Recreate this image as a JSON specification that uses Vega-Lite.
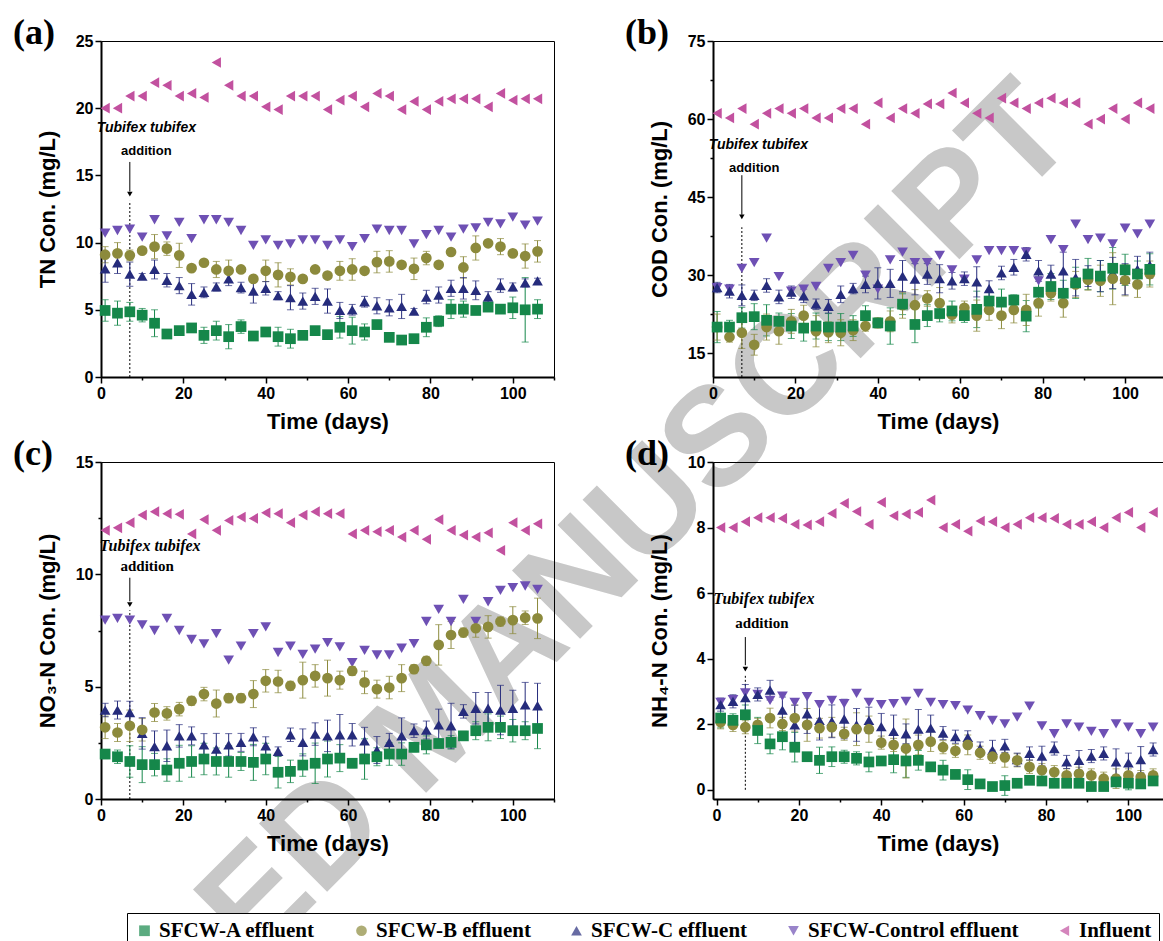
{
"$schema": "https://vega.github.io/schema/vega-lite/v6.json",
"background": "white",
"padding": {"left": 12, "top": 14, "right": 0, "bottom": 0},
"datasets": {"main": [
{"p":"a","d":1,"A":4.95,"eA":0.8,"B":9.1,"eB":0.6,"C":8.05,"eC":1.0,"Control":10.7,"Influent":20.0},
{"p":"a","d":4,"A":4.75,"eA":0.9,"B":9.2,"eB":0.8,"C":8.5,"eC":0.8,"Control":10.9,"Influent":20.0},
{"p":"a","d":7,"A":4.85,"eA":0.7,"B":9.05,"eB":0.4,"C":7.65,"eC":0.9,"Control":11.0,"Influent":20.9},
{"p":"a","d":10,"A":4.6,"eA":0.5,"B":9.4,"eB":0.2,"C":7.5,"eC":0.2,"Control":10.4,"Influent":20.9},
{"p":"a","d":13,"A":4.0,"eA":1.0,"B":9.7,"eB":0.9,"C":8.0,"eC":0.7,"Control":11.7,"Influent":21.9},
{"p":"a","d":16,"A":3.2,"eA":0.2,"B":9.55,"eB":0.5,"C":7.2,"eC":0.5,"Control":10.5,"Influent":21.7},
{"p":"a","d":19,"A":3.45,"eA":0.2,"B":9.05,"eB":0.9,"C":6.8,"eC":0.6,"Control":11.5,"Influent":20.9},
{"p":"a","d":22,"A":3.65,"eA":0.2,"B":8.1,"eB":0.2,"C":6.15,"eC":0.8,"Control":10.3,"Influent":21.1},
{"p":"a","d":25,"A":3.1,"eA":0.6,"B":8.5,"eB":0.2,"C":6.3,"eC":0.4,"Control":11.7,"Influent":20.8},
{"p":"a","d":28,"A":3.45,"eA":0.7,"B":8.0,"eB":0.6,"C":6.7,"eC":0.3,"Control":11.7,"Influent":23.4},
{"p":"a","d":31,"A":3.0,"eA":0.9,"B":7.9,"eB":0.8,"C":7.3,"eC":0.5,"Control":11.5,"Influent":21.7},
{"p":"a","d":34,"A":3.75,"eA":0.5,"B":8.0,"eB":0.2,"C":6.65,"eC":0.4,"Control":10.9,"Influent":20.9},
{"p":"a","d":37,"A":3.05,"eA":0.2,"B":7.3,"eB":0.2,"C":6.4,"eC":0.9,"Control":9.8,"Influent":20.9},
{"p":"a","d":40,"A":3.35,"eA":0.2,"B":7.9,"eB":0.8,"C":6.6,"eC":0.5,"Control":10.2,"Influent":20.1},
{"p":"a","d":43,"A":3.0,"eA":0.7,"B":7.6,"eB":0.9,"C":6.05,"eC":0.3,"Control":9.8,"Influent":19.9},
{"p":"a","d":46,"A":2.85,"eA":0.7,"B":7.45,"eB":0.6,"C":5.9,"eC":0.9,"Control":9.9,"Influent":20.9},
{"p":"a","d":49,"A":3.1,"eA":0.2,"B":7.3,"eB":0.2,"C":5.65,"eC":0.6,"Control":10.2,"Influent":20.9},
{"p":"a","d":52,"A":3.45,"eA":0.2,"B":8.0,"eB":0.2,"C":6.0,"eC":0.6,"Control":10.2,"Influent":20.9},
{"p":"a","d":55,"A":3.15,"eA":0.2,"B":7.55,"eB":0.2,"C":5.65,"eC":0.9,"Control":9.8,"Influent":19.9},
{"p":"a","d":58,"A":3.7,"eA":0.8,"B":7.9,"eB":0.7,"C":4.95,"eC":0.6,"Control":10.2,"Influent":20.6},
{"p":"a","d":61,"A":3.45,"eA":1.0,"B":8.0,"eB":0.8,"C":5.0,"eC":0.4,"Control":9.7,"Influent":20.9},
{"p":"a","d":64,"A":3.35,"eA":0.6,"B":7.9,"eB":0.2,"C":5.6,"eC":0.4,"Control":10.3,"Influent":20.1},
{"p":"a","d":67,"A":3.9,"eA":0.2,"B":8.55,"eB":0.8,"C":5.3,"eC":0.6,"Control":11.0,"Influent":21.1},
{"p":"a","d":70,"A":2.95,"eA":0.2,"B":8.6,"eB":0.8,"C":5.15,"eC":0.6,"Control":10.9,"Influent":20.9},
{"p":"a","d":73,"A":2.75,"eA":0.2,"B":8.35,"eB":0.2,"C":5.25,"eC":0.9,"Control":10.9,"Influent":19.9},
{"p":"a","d":76,"A":2.85,"eA":0.2,"B":8.05,"eB":0.8,"C":4.9,"eC":0.2,"Control":9.9,"Influent":20.5},
{"p":"a","d":79,"A":3.7,"eA":0.7,"B":8.85,"eB":0.5,"C":5.95,"eC":0.5,"Control":10.6,"Influent":19.9},
{"p":"a","d":82,"A":4.15,"eA":0.4,"B":8.35,"eB":0.2,"C":6.1,"eC":0.6,"Control":10.9,"Influent":20.5},
{"p":"a","d":85,"A":5.05,"eA":0.7,"B":9.3,"eB":0.2,"C":6.6,"eC":0.6,"Control":10.4,"Influent":20.7},
{"p":"a","d":88,"A":5.05,"eA":0.6,"B":8.15,"eB":0.8,"C":6.6,"eC":0.8,"Control":11.0,"Influent":20.7},
{"p":"a","d":91,"A":4.95,"eA":0.2,"B":9.6,"eB":0.9,"C":6.45,"eC":0.7,"Control":11.1,"Influent":20.7},
{"p":"a","d":94,"A":5.2,"eA":0.2,"B":9.95,"eB":0.2,"C":5.95,"eC":0.4,"Control":11.5,"Influent":20.1},
{"p":"a","d":97,"A":5.05,"eA":0.2,"B":9.7,"eB":0.6,"C":6.8,"eC":0.5,"Control":11.4,"Influent":21.1},
{"p":"a","d":100,"A":5.15,"eA":0.8,"B":9.2,"eB":0.2,"C":6.7,"eC":0.3,"Control":11.9,"Influent":20.6},
{"p":"a","d":103,"A":5.0,"eA":2.4,"B":9.0,"eB":0.9,"C":7.0,"eC":0.3,"Control":11.3,"Influent":20.7},
{"p":"a","d":106,"A":5.05,"eA":0.7,"B":9.35,"eB":0.8,"C":7.15,"eC":0.2,"Control":11.6,"Influent":20.7},
{"p":"b","d":1,"A":20.0,"eA":3,"B":20.0,"eB":2.5,"C":27.6,"eC":1.0,"Control":27.6,"Influent":61.1},
{"p":"b","d":4,"A":20.0,"eA":1.3,"B":18.1,"eB":1,"C":26.9,"eC":1.3,"Control":27.3,"Influent":60.2},
{"p":"b","d":7,"A":21.8,"eA":2,"B":18.9,"eB":3,"C":26.1,"eC":2,"Control":31.3,"Influent":62.0},
{"p":"b","d":10,"A":22.0,"eA":2.5,"B":16.6,"eB":2,"C":26.1,"eC":1,"Control":32.4,"Influent":59.0},
{"p":"b","d":13,"A":21.3,"eA":3,"B":20.0,"eB":2.5,"C":28.0,"eC":1.3,"Control":37.1,"Influent":61.1},
{"p":"b","d":16,"A":21.1,"eA":1.6,"B":19.2,"eB":2.5,"C":25.8,"eC":1.3,"Control":29.7,"Influent":62.0},
{"p":"b","d":19,"A":20.2,"eA":2.4,"B":21.1,"eB":2.3,"C":26.7,"eC":1.2,"Control":26.9,"Influent":61.1},
{"p":"b","d":22,"A":19.8,"eA":2.5,"B":22.2,"eB":2,"C":26.0,"eC":1.3,"Control":27.3,"Influent":62.0},
{"p":"b","d":25,"A":20.2,"eA":2.5,"B":19.2,"eB":3,"C":24.4,"eC":1,"Control":27.8,"Influent":60.2},
{"p":"b","d":28,"A":20.0,"eA":2.6,"B":19.0,"eB":2,"C":24.0,"eC":1.3,"Control":31.3,"Influent":60.2},
{"p":"b","d":31,"A":20.0,"eA":2.6,"B":18.9,"eB":2.5,"C":26.3,"eC":1.6,"Control":32.4,"Influent":62.0},
{"p":"b","d":34,"A":20.2,"eA":2.0,"B":19.4,"eB":2,"C":27.4,"eC":1,"Control":33.8,"Influent":62.0},
{"p":"b","d":37,"A":22.2,"eA":1.9,"B":20.2,"eB":1,"C":28.2,"eC":1.6,"Control":30.0,"Influent":59.0},
{"p":"b","d":40,"A":20.8,"eA":0.8,"B":20.8,"eB":1,"C":28.4,"eC":3,"Control":27.3,"Influent":63.1},
{"p":"b","d":43,"A":20.2,"eA":3.5,"B":21.1,"eB":2,"C":28.4,"eC":2.7,"Control":32.9,"Influent":60.2},
{"p":"b","d":46,"A":24.4,"eA":2,"B":24.2,"eB":2.5,"C":29.8,"eC":3,"Control":34.4,"Influent":62.0},
{"p":"b","d":49,"A":20.5,"eA":3.5,"B":24.2,"eB":3,"C":29.2,"eC":3,"Control":32.4,"Influent":61.1},
{"p":"b","d":52,"A":22.2,"eA":2.1,"B":25.5,"eB":1.5,"C":30.2,"eC":2,"Control":32.4,"Influent":62.9},
{"p":"b","d":55,"A":22.6,"eA":1.6,"B":24.6,"eB":3,"C":29.3,"eC":2.7,"Control":33.8,"Influent":62.9},
{"p":"b","d":58,"A":23.1,"eA":1.9,"B":22.4,"eB":1.6,"C":28.9,"eC":1.6,"Control":31.0,"Influent":65.0},
{"p":"b","d":61,"A":22.2,"eA":1.3,"B":23.7,"eB":1.3,"C":29.3,"eC":1.3,"Control":29.2,"Influent":63.1},
{"p":"b","d":64,"A":23.4,"eA":3.5,"B":22.2,"eB":3,"C":28.7,"eC":2.9,"Control":32.9,"Influent":61.1},
{"p":"b","d":67,"A":25.0,"eA":2,"B":23.3,"eB":2,"C":27.4,"eC":1.5,"Control":34.7,"Influent":60.2},
{"p":"b","d":70,"A":24.8,"eA":2.5,"B":22.2,"eB":2.5,"C":30.4,"eC":1.3,"Control":34.7,"Influent":64.0},
{"p":"b","d":73,"A":25.2,"eA":1,"B":23.3,"eB":2.5,"C":31.5,"eC":1.5,"Control":34.7,"Influent":63.1},
{"p":"b","d":76,"A":22.1,"eA":3,"B":23.3,"eB":3,"C":34.0,"eC":1.3,"Control":34.4,"Influent":62.0},
{"p":"b","d":79,"A":26.7,"eA":3,"B":24.6,"eB":2.5,"C":30.8,"eC":2,"Control":28.9,"Influent":63.1},
{"p":"b","d":82,"A":27.8,"eA":2.5,"B":26.5,"eB":1.5,"C":30.2,"eC":1.7,"Control":36.8,"Influent":64.0},
{"p":"b","d":85,"A":26.5,"eA":2.5,"B":24.6,"eB":2.7,"C":30.8,"eC":3.6,"Control":34.9,"Influent":63.1},
{"p":"b","d":88,"A":28.5,"eA":3,"B":28.2,"eB":2.5,"C":29.5,"eC":3.5,"Control":39.8,"Influent":63.1},
{"p":"b","d":91,"A":30.2,"eA":3,"B":29.1,"eB":2,"C":29.8,"eC":2,"Control":36.8,"Influent":59.0},
{"p":"b","d":94,"A":29.8,"eA":3,"B":28.9,"eB":3,"C":29.8,"eC":3,"Control":37.1,"Influent":60.0},
{"p":"b","d":97,"A":31.3,"eA":4,"B":29.3,"eB":5,"C":30.4,"eC":3,"Control":36.0,"Influent":62.0},
{"p":"b","d":100,"A":31.0,"eA":3,"B":29.0,"eB":3,"C":29.2,"eC":3,"Control":39.0,"Influent":60.0},
{"p":"b","d":103,"A":30.2,"eA":2.5,"B":28.2,"eB":2.5,"C":31.1,"eC":2.5,"Control":37.9,"Influent":63.1},
{"p":"b","d":106,"A":31.1,"eA":3,"B":30.2,"eB":2.5,"C":31.9,"eC":2.5,"Control":39.8,"Influent":62.0},
{"p":"c","d":1,"A":2.0,"eA":0.2,"B":3.19,"eB":0.5,"C":3.96,"eC":0.3,"Control":7.96,"Influent":11.96},
{"p":"c","d":4,"A":1.88,"eA":0.3,"B":2.96,"eB":0.4,"C":3.96,"eC":0.4,"Control":8.04,"Influent":12.07},
{"p":"c","d":7,"A":1.67,"eA":0.7,"B":3.26,"eB":0.7,"C":3.85,"eC":0.5,"Control":7.96,"Influent":12.3},
{"p":"c","d":10,"A":1.53,"eA":0.8,"B":3.08,"eB":0.5,"C":2.92,"eC":0.7,"Control":7.75,"Influent":12.64},
{"p":"c","d":13,"A":1.53,"eA":0.5,"B":3.85,"eB":0.4,"C":2.33,"eC":0.7,"Control":7.5,"Influent":12.79},
{"p":"c","d":16,"A":1.29,"eA":0.5,"B":3.81,"eB":0.3,"C":2.37,"eC":0.7,"Control":8.04,"Influent":12.7},
{"p":"c","d":19,"A":1.59,"eA":0.8,"B":4.0,"eB":0.3,"C":2.81,"eC":0.5,"Control":7.5,"Influent":12.67},
{"p":"c","d":22,"A":1.67,"eA":0.7,"B":4.37,"eB":0.2,"C":2.81,"eC":0.4,"Control":7.1,"Influent":11.8},
{"p":"c","d":25,"A":1.78,"eA":0.7,"B":4.67,"eB":0.3,"C":2.41,"eC":0.5,"Control":6.9,"Influent":12.44},
{"p":"c","d":28,"A":1.67,"eA":0.6,"B":4.25,"eB":0.6,"C":2.22,"eC":0.7,"Control":7.36,"Influent":11.96},
{"p":"c","d":31,"A":1.67,"eA":0.7,"B":4.49,"eB":0.2,"C":2.41,"eC":0.5,"Control":6.18,"Influent":12.4},
{"p":"c","d":34,"A":1.67,"eA":0.4,"B":4.49,"eB":0.2,"C":2.52,"eC":0.4,"Control":6.8,"Influent":12.55},
{"p":"c","d":37,"A":1.63,"eA":0.8,"B":4.67,"eB":0.6,"C":2.77,"eC":0.4,"Control":7.36,"Influent":12.49},
{"p":"c","d":40,"A":1.78,"eA":0.7,"B":5.26,"eB":0.5,"C":2.37,"eC":0.4,"Control":7.66,"Influent":12.74},
{"p":"c","d":43,"A":1.19,"eA":0.7,"B":5.23,"eB":0.5,"C":2.12,"eC":0.2,"Control":6.52,"Influent":12.7},
{"p":"c","d":46,"A":1.23,"eA":0.5,"B":5.04,"eB":0.2,"C":2.86,"eC":0.3,"Control":6.8,"Influent":12.3},
{"p":"c","d":49,"A":1.51,"eA":0.5,"B":5.29,"eB":0.8,"C":2.52,"eC":0.6,"Control":6.44,"Influent":12.64},
{"p":"c","d":52,"A":1.59,"eA":0.9,"B":5.48,"eB":0.5,"C":2.89,"eC":0.5,"Control":6.67,"Influent":12.79},
{"p":"c","d":55,"A":1.78,"eA":0.8,"B":5.38,"eB":0.8,"C":2.81,"eC":0.7,"Control":6.96,"Influent":12.7},
{"p":"c","d":58,"A":1.82,"eA":0.6,"B":5.29,"eB":0.4,"C":2.86,"eC":0.9,"Control":6.77,"Influent":12.7},
{"p":"c","d":61,"A":1.59,"eA":0.2,"B":5.7,"eB":0.2,"C":2.86,"eC":0.5,"Control":6.07,"Influent":11.8},
{"p":"c","d":64,"A":1.78,"eA":0.9,"B":5.19,"eB":0.5,"C":2.59,"eC":0.6,"Control":6.62,"Influent":11.96},
{"p":"c","d":67,"A":1.88,"eA":0.4,"B":4.89,"eB":0.4,"C":2.18,"eC":0.6,"Control":6.41,"Influent":11.9},
{"p":"c","d":70,"A":2.0,"eA":0.5,"B":4.96,"eB":0.5,"C":2.52,"eC":0.4,"Control":6.41,"Influent":11.96},
{"p":"c","d":73,"A":2.0,"eA":0.5,"B":5.38,"eB":0.6,"C":2.81,"eC":0.8,"Control":6.71,"Influent":11.66},
{"p":"c","d":76,"A":2.3,"eA":0.2,"B":5.78,"eB":0.2,"C":3.04,"eC":0.3,"Control":6.92,"Influent":11.96},
{"p":"c","d":79,"A":2.41,"eA":0.4,"B":6.15,"eB":0.2,"C":3.07,"eC":0.4,"Control":7.9,"Influent":11.56},
{"p":"c","d":82,"A":2.47,"eA":0.2,"B":6.86,"eB":0.9,"C":3.3,"eC":0.7,"Control":8.44,"Influent":12.44},
{"p":"c","d":85,"A":2.52,"eA":0.3,"B":7.3,"eB":0.6,"C":3.26,"eC":1.0,"Control":7.9,"Influent":11.96},
{"p":"c","d":88,"A":2.81,"eA":0.2,"B":7.41,"eB":0.2,"C":3.9,"eC":0.3,"Control":8.89,"Influent":11.75},
{"p":"c","d":91,"A":3.04,"eA":0.4,"B":7.6,"eB":0.4,"C":4.04,"eC":0.7,"Control":7.9,"Influent":11.66},
{"p":"c","d":94,"A":3.19,"eA":0.6,"B":7.66,"eB":0.5,"C":4.04,"eC":0.7,"Control":8.78,"Influent":11.85},
{"p":"c","d":97,"A":3.19,"eA":0.5,"B":7.9,"eB":0.2,"C":3.96,"eC":1.1,"Control":9.29,"Influent":11.07},
{"p":"c","d":100,"A":3.04,"eA":0.5,"B":7.96,"eB":0.6,"C":4.04,"eC":0.8,"Control":9.41,"Influent":12.3},
{"p":"c","d":103,"A":3.04,"eA":0.4,"B":8.07,"eB":0.3,"C":4.19,"eC":1.0,"Control":9.48,"Influent":11.96},
{"p":"c","d":106,"A":3.14,"eA":0.9,"B":8.04,"eB":0.9,"C":4.15,"eC":1.0,"Control":9.33,"Influent":12.25},
{"p":"d","d":1,"A":2.19,"eA":0.3,"B":2.06,"eB":0.2,"C":2.6,"eC":0.2,"Control":2.67,"Influent":8.0},
{"p":"d","d":4,"A":2.12,"eA":0.2,"B":1.98,"eB":0.2,"C":2.7,"eC":0.2,"Control":2.75,"Influent":8.0},
{"p":"d","d":7,"A":2.29,"eA":0.3,"B":1.91,"eB":0.2,"C":2.81,"eC":0.4,"Control":2.96,"Influent":8.18},
{"p":"d","d":10,"A":1.81,"eA":0.4,"B":1.98,"eB":0.2,"C":2.91,"eC":0.2,"Control":2.91,"Influent":8.3},
{"p":"d","d":13,"A":1.4,"eA":0.3,"B":2.19,"eB":0.3,"C":3.04,"eC":0.3,"Control":2.73,"Influent":8.3},
{"p":"d","d":16,"A":1.62,"eA":0.4,"B":2.01,"eB":0.2,"C":2.43,"eC":0.4,"Control":2.86,"Influent":8.28},
{"p":"d","d":19,"A":1.3,"eA":0.45,"B":2.19,"eB":0.4,"C":1.98,"eC":0.6,"Control":2.67,"Influent":8.1},
{"p":"d","d":22,"A":1.01,"eA":0.1,"B":1.98,"eB":0.5,"C":2.32,"eC":0.6,"Control":2.84,"Influent":8.08},
{"p":"d","d":25,"A":0.9,"eA":0.4,"B":1.88,"eB":0.3,"C":2.12,"eC":0.6,"Control":2.6,"Influent":8.18},
{"p":"d","d":28,"A":1.01,"eA":0.3,"B":1.91,"eB":0.3,"C":2.09,"eC":0.5,"Control":2.73,"Influent":8.43},
{"p":"d","d":31,"A":1.01,"eA":0.2,"B":1.71,"eB":0.2,"C":2.16,"eC":0.6,"Control":2.63,"Influent":8.74},
{"p":"d","d":34,"A":0.96,"eA":0.2,"B":1.85,"eB":0.5,"C":1.98,"eC":0.5,"Control":2.94,"Influent":8.49},
{"p":"d","d":37,"A":0.85,"eA":0.3,"B":1.85,"eB":0.4,"C":2.12,"eC":0.4,"Control":2.67,"Influent":8.1},
{"p":"d","d":40,"A":0.88,"eA":0.1,"B":1.44,"eB":0.2,"C":1.93,"eC":0.4,"Control":2.6,"Influent":8.77},
{"p":"d","d":43,"A":0.92,"eA":0.4,"B":1.37,"eB":0.2,"C":1.78,"eC":0.5,"Control":2.63,"Influent":8.36},
{"p":"d","d":46,"A":0.88,"eA":0.5,"B":1.26,"eB":0.9,"C":1.71,"eC":0.3,"Control":2.7,"Influent":8.41},
{"p":"d","d":49,"A":0.9,"eA":0.3,"B":1.37,"eB":0.3,"C":1.85,"eC":0.6,"Control":2.94,"Influent":8.46},
{"p":"d","d":52,"A":0.7,"eA":0.1,"B":1.47,"eB":0.3,"C":1.88,"eC":0.4,"Control":2.67,"Influent":8.84},
{"p":"d","d":55,"A":0.6,"eA":0.3,"B":1.3,"eB":0.2,"C":1.73,"eC":0.2,"Control":2.6,"Influent":8.0},
{"p":"d","d":58,"A":0.47,"eA":0.1,"B":1.19,"eB":0.2,"C":1.62,"eC":0.2,"Control":2.57,"Influent":8.1},
{"p":"d","d":61,"A":0.31,"eA":0.3,"B":1.37,"eB":0.3,"C":1.6,"eC":0.2,"Control":2.43,"Influent":7.89},
{"p":"d","d":64,"A":0.18,"eA":0.1,"B":1.13,"eB":0.2,"C":1.26,"eC":0.2,"Control":2.26,"Influent":8.2},
{"p":"d","d":67,"A":0.1,"eA":0.1,"B":1.01,"eB":0.2,"C":1.21,"eC":0.3,"Control":2.12,"Influent":8.18},
{"p":"d","d":70,"A":0.13,"eA":0.3,"B":0.99,"eB":0.3,"C":1.34,"eC":0.2,"Control":2.01,"Influent":8.0},
{"p":"d","d":73,"A":0.2,"eA":0.1,"B":0.9,"eB":0.2,"C":0.92,"eC":0.2,"Control":2.22,"Influent":8.1},
{"p":"d","d":76,"A":0.29,"eA":0.1,"B":0.7,"eB":0.2,"C":1.11,"eC":0.2,"Control":2.55,"Influent":8.3},
{"p":"d","d":79,"A":0.27,"eA":0.1,"B":0.6,"eB":0.2,"C":1.03,"eC":0.3,"Control":1.95,"Influent":8.3},
{"p":"d","d":82,"A":0.2,"eA":0.1,"B":0.54,"eB":0.2,"C":1.26,"eC":0.2,"Control":1.71,"Influent":8.28},
{"p":"d","d":85,"A":0.2,"eA":0.1,"B":0.44,"eB":0.2,"C":0.85,"eC":0.2,"Control":2.01,"Influent":8.1},
{"p":"d","d":88,"A":0.2,"eA":0.1,"B":0.49,"eB":0.2,"C":0.9,"eC":0.3,"Control":1.91,"Influent":8.1},
{"p":"d","d":91,"A":0.1,"eA":0.1,"B":0.44,"eB":0.2,"C":1.03,"eC":0.2,"Control":1.78,"Influent":8.18},
{"p":"d","d":94,"A":0.1,"eA":0.1,"B":0.34,"eB":0.2,"C":1.11,"eC":0.2,"Control":1.71,"Influent":8.0},
{"p":"d","d":97,"A":0.24,"eA":0.1,"B":0.34,"eB":0.3,"C":0.85,"eC":0.4,"Control":2.01,"Influent":8.3},
{"p":"d","d":100,"A":0.2,"eA":0.2,"B":0.44,"eB":0.2,"C":0.82,"eC":0.3,"Control":1.91,"Influent":8.46},
{"p":"d","d":103,"A":0.18,"eA":0.1,"B":0.39,"eB":0.2,"C":0.92,"eC":0.4,"Control":1.71,"Influent":8.0},
{"p":"d","d":106,"A":0.27,"eA":0.1,"B":0.44,"eB":0.2,"C":1.23,"eC":0.2,"Control":1.91,"Influent":8.46}
]},
"columns": 2,
"bounds": "flush",
"spacing": {"row": 85, "column": 159},
"concat": [
{
"title": {"text": "(a)", "anchor": "start", "frame": "group", "dx": -88, "dy": 19, "offset": 0, "font": "Liberation Serif", "fontSize": 36, "fontWeight": "bold", "color": "black"},
"width": 453, "height": 336,
"layer": [
{"data": {"values": [{}]}, "mark": {"type": "text", "text": "ED MANUSCRIPT", "angle": -45, "font": "Liberation Sans", "fontWeight": "bold", "fontSize": 140, "color": "#c8c8c8", "align": "center", "baseline": "middle"}, "encoding": {"x": {"datum": 130.2, "type": "quantitative", "title": "Time (days)"}, "y": {"datum": -10.79, "type": "quantitative", "title": "TN Con. (mg/L)"}}},
{"data": {"values": [{}]}, "mark": {"type": "rule", "strokeDash": [2, 2], "color": "black", "strokeWidth": 1}, "encoding": {"x": {"datum": 7, "type": "quantitative", "title": "Time (days)"}, "y": {"datum": 0, "type": "quantitative", "title": "TN Con. (mg/L)"}, "y2": {"datum": 13.1}}},
{"data": {"values": [{}]}, "mark": {"type": "rule", "color": "black", "strokeWidth": 1}, "encoding": {"x": {"datum": 7, "type": "quantitative", "title": "Time (days)"}, "y": {"datum": 16.0, "type": "quantitative", "title": "TN Con. (mg/L)"}, "y2": {"datum": 13.8}}},
{"data": {"values": [{}]}, "mark": {"type": "point", "shape": "triangle-down", "filled": true, "color": "black", "size": 30, "opacity": 1}, "encoding": {"x": {"datum": 7, "type": "quantitative", "title": "Time (days)"}, "y": {"datum": 13.6, "type": "quantitative", "title": "TN Con. (mg/L)"}}},
{"data": {"values": [{}]}, "mark": {"type": "text", "text": "Tubifex tubifex", "font": "Liberation Sans", "fontStyle": "italic", "fontWeight": "bold", "fontSize": 14, "color": "black"}, "encoding": {"x": {"datum": 11, "type": "quantitative", "title": "Time (days)"}, "y": {"datum": 18.5, "type": "quantitative", "title": "TN Con. (mg/L)"}}},
{"data": {"values": [{}]}, "mark": {"type": "text", "text": "addition", "font": "Liberation Sans", "fontWeight": "bold", "fontSize": 13, "color": "black"}, "encoding": {"x": {"datum": 11, "type": "quantitative", "title": "Time (days)"}, "y": {"datum": 16.8, "type": "quantitative", "title": "TN Con. (mg/L)"}}},
{"data": {"name": "main"}, "transform": [{"filter": "datum.p === 'a'"}], "layer": [
{"mark": {"type": "errorbar", "ticks": true, "size": 7, "thickness": 1}, "encoding": {"x": {"field": "d", "type": "quantitative", "title": "Time (days)"}, "y": {"field": "A", "type": "quantitative", "title": "TN Con. (mg/L)"}, "yError": {"field": "eA"}, "color": {"datum": "A"}}},
{"mark": {"type": "errorbar", "ticks": true, "size": 7, "thickness": 1}, "encoding": {"x": {"field": "d", "type": "quantitative", "title": "Time (days)"}, "y": {"field": "B", "type": "quantitative", "title": "TN Con. (mg/L)"}, "yError": {"field": "eB"}, "color": {"datum": "B"}}},
{"mark": {"type": "errorbar", "ticks": true, "size": 7, "thickness": 1}, "encoding": {"x": {"field": "d", "type": "quantitative", "title": "Time (days)"}, "y": {"field": "C", "type": "quantitative", "title": "TN Con. (mg/L)"}, "yError": {"field": "eC"}, "color": {"datum": "C"}}},
{"transform": [{"fold": ["Influent", "Control", "C", "B", "A"]}], "mark": {"type": "point", "filled": true, "opacity": 1},
 "encoding": {
  "x": {"field": "d", "type": "quantitative", "title": "Time (days)", "scale": {"domain": [0, 110], "nice": false}, "axis": {"values": [0,10,20,30,40,50,60,70,80,90,100,110], "labelExpr": "datum.value % 20 === 0 && datum.value <= 100 ? datum.label : ''", "tickSize": {"condition": {"test": "datum.value % 20 === 0", "value": 6}, "value": 3}}},
  "y": {"field": "value", "type": "quantitative", "title": "TN Con. (mg/L)", "scale": {"domain": [0, 25], "nice": false}, "axis": {"values": [0,2.5,5,7.5,10,12.5,15,17.5,20,22.5,25], "labelExpr": "datum.value % 5 === 0 ? datum.label : ''", "tickSize": {"condition": {"test": "datum.value % 5 === 0", "value": 6}, "value": 3}}},
  "color": {"field": "key", "type": "nominal", "scale": {"domain": ["A", "B", "C", "Control", "Influent"], "range": ["#15874a", "#8c8a3c", "#262c7c", "#6e50b4", "#c2519f"]}, "legend": {"title": null, "orient": "none", "legendX": 26, "legendY": 872, "direction": "horizontal", "labelExpr": "datum.label == 'Influent' ? 'Influent' : 'SFCW-' + datum.label + ' effluent'", "strokeColor": "black", "fillColor": "white", "padding": 7, "labelFont": "Liberation Serif", "labelFontWeight": "bold", "labelFontSize": 21, "labelColor": "black", "columnPadding": 35, "labelLimit": 400, "symbolOpacity": 1, "symbolStrokeWidth": 0}},
  "shape": {"field": "key", "type": "nominal", "scale": {"domain": ["A", "B", "C", "Control", "Influent"], "range": ["square", "circle", "triangle-up", "triangle-down", "triangle-left"]}, "legend": {"title": null, "orient": "none", "legendX": 26, "legendY": 872, "direction": "horizontal", "labelExpr": "datum.label == 'Influent' ? 'Influent' : 'SFCW-' + datum.label + ' effluent'", "strokeColor": "black", "fillColor": "white", "padding": 7, "labelFont": "Liberation Serif", "labelFontWeight": "bold", "labelFontSize": 21, "labelColor": "black", "columnPadding": 35, "labelLimit": 400, "symbolOpacity": 1, "symbolStrokeWidth": 0}},
  "size": {"field": "key", "type": "nominal", "scale": {"domain": ["A", "B", "C", "Control", "Influent"], "range": [115, 115, 165, 165, 165]}, "legend": {"title": null, "orient": "none", "legendX": 26, "legendY": 872, "direction": "horizontal", "labelExpr": "datum.label == 'Influent' ? 'Influent' : 'SFCW-' + datum.label + ' effluent'", "strokeColor": "black", "fillColor": "white", "padding": 7, "labelFont": "Liberation Serif", "labelFontWeight": "bold", "labelFontSize": 21, "labelColor": "black", "columnPadding": 35, "labelLimit": 400, "symbolOpacity": 1, "symbolStrokeWidth": 0}}
 }}
]}
]
},
{
"title": {"text": "(b)", "anchor": "start", "frame": "group", "dx": -88, "dy": 19, "offset": 0, "font": "Liberation Serif", "fontSize": 36, "fontWeight": "bold", "color": "black"},
"width": 450, "height": 336,
"layer": [
{"data": {"values": [{}]}, "mark": {"type": "rule", "strokeDash": [2, 2], "color": "black", "strokeWidth": 1}, "encoding": {"x": {"datum": 7, "type": "quantitative", "title": "Time (days)"}, "y": {"datum": 10.4, "type": "quantitative", "title": "COD Con. (mg/L)"}, "y2": {"datum": 39.2}}},
{"data": {"values": [{}]}, "mark": {"type": "rule", "color": "black", "strokeWidth": 1}, "encoding": {"x": {"datum": 7, "type": "quantitative", "title": "Time (days)"}, "y": {"datum": 49.2, "type": "quantitative", "title": "COD Con. (mg/L)"}, "y2": {"datum": 41.6}}},
{"data": {"values": [{}]}, "mark": {"type": "point", "shape": "triangle-down", "filled": true, "color": "black", "size": 30, "opacity": 1}, "encoding": {"x": {"datum": 7, "type": "quantitative", "title": "Time (days)"}, "y": {"datum": 41.2, "type": "quantitative", "title": "COD Con. (mg/L)"}}},
{"data": {"values": [{}]}, "mark": {"type": "text", "text": "Tubifex tubifex", "font": "Liberation Sans", "fontStyle": "italic", "fontWeight": "bold", "fontSize": 14, "color": "black"}, "encoding": {"x": {"datum": 11, "type": "quantitative", "title": "Time (days)"}, "y": {"datum": 55.1, "type": "quantitative", "title": "COD Con. (mg/L)"}}},
{"data": {"values": [{}]}, "mark": {"type": "text", "text": "addition", "font": "Liberation Sans", "fontWeight": "bold", "fontSize": 13, "color": "black"}, "encoding": {"x": {"datum": 10, "type": "quantitative", "title": "Time (days)"}, "y": {"datum": 50.5, "type": "quantitative", "title": "COD Con. (mg/L)"}}},
{"data": {"name": "main"}, "transform": [{"filter": "datum.p === 'b'"}], "layer": [
{"mark": {"type": "errorbar", "ticks": true, "size": 7, "thickness": 1}, "encoding": {"x": {"field": "d", "type": "quantitative", "title": "Time (days)"}, "y": {"field": "A", "type": "quantitative", "title": "COD Con. (mg/L)"}, "yError": {"field": "eA"}, "color": {"datum": "A"}}},
{"mark": {"type": "errorbar", "ticks": true, "size": 7, "thickness": 1}, "encoding": {"x": {"field": "d", "type": "quantitative", "title": "Time (days)"}, "y": {"field": "B", "type": "quantitative", "title": "COD Con. (mg/L)"}, "yError": {"field": "eB"}, "color": {"datum": "B"}}},
{"mark": {"type": "errorbar", "ticks": true, "size": 7, "thickness": 1}, "encoding": {"x": {"field": "d", "type": "quantitative", "title": "Time (days)"}, "y": {"field": "C", "type": "quantitative", "title": "COD Con. (mg/L)"}, "yError": {"field": "eC"}, "color": {"datum": "C"}}},
{"transform": [{"fold": ["Influent", "Control", "C", "B", "A"]}], "mark": {"type": "point", "filled": true, "opacity": 1},
 "encoding": {
  "x": {"field": "d", "type": "quantitative", "title": "Time (days)", "scale": {"domain": [0, 109.2], "nice": false}, "axis": {"values": [0,10,20,30,40,50,60,70,80,90,100], "labelExpr": "datum.value % 20 === 0 ? datum.label : ''", "tickSize": {"condition": {"test": "datum.value % 20 === 0", "value": 6}, "value": 3}}},
  "y": {"field": "value", "type": "quantitative", "title": "COD Con. (mg/L)", "scale": {"domain": [10.4, 75], "nice": false, "zero": false}, "axis": {"values": [15,22.5,30,37.5,45,52.5,60,67.5,75], "labelExpr": "datum.value % 15 === 0 ? datum.label : ''", "tickSize": {"condition": {"test": "datum.value % 15 === 0", "value": 6}, "value": 3}}},
  "color": {"field": "key", "type": "nominal", "scale": {"domain": ["A", "B", "C", "Control", "Influent"], "range": ["#15874a", "#8c8a3c", "#262c7c", "#6e50b4", "#c2519f"]}},
  "shape": {"field": "key", "type": "nominal", "scale": {"domain": ["A", "B", "C", "Control", "Influent"], "range": ["square", "circle", "triangle-up", "triangle-down", "triangle-left"]}},
  "size": {"field": "key", "type": "nominal", "scale": {"domain": ["A", "B", "C", "Control", "Influent"], "range": [115, 115, 165, 165, 165]}}
 }}
]}
]
},
{
"title": {"text": "(c)", "anchor": "start", "frame": "group", "dx": -88, "dy": 19, "offset": 0, "font": "Liberation Serif", "fontSize": 36, "fontWeight": "bold", "color": "black"},
"width": 453, "height": 337,
"layer": [
{"data": {"values": [{}]}, "mark": {"type": "rule", "strokeDash": [2, 2], "color": "black", "strokeWidth": 1}, "encoding": {"x": {"datum": 7, "type": "quantitative", "title": "Time (days)"}, "y": {"datum": 0, "type": "quantitative", "title": "NO₃-N Con. (mg/L)"}, "y2": {"datum": 8.4}}},
{"data": {"values": [{}]}, "mark": {"type": "rule", "color": "black", "strokeWidth": 1}, "encoding": {"x": {"datum": 7, "type": "quantitative", "title": "Time (days)"}, "y": {"datum": 9.85, "type": "quantitative", "title": "NO₃-N Con. (mg/L)"}, "y2": {"datum": 8.8}}},
{"data": {"values": [{}]}, "mark": {"type": "point", "shape": "triangle-down", "filled": true, "color": "black", "size": 30, "opacity": 1}, "encoding": {"x": {"datum": 7, "type": "quantitative", "title": "Time (days)"}, "y": {"datum": 8.65, "type": "quantitative", "title": "NO₃-N Con. (mg/L)"}}},
{"data": {"values": [{}]}, "mark": {"type": "text", "text": "Tubifex tubifex", "font": "Liberation Serif", "fontStyle": "italic", "fontWeight": "bold", "fontSize": 16, "color": "black"}, "encoding": {"x": {"datum": 11.9, "type": "quantitative", "title": "Time (days)"}, "y": {"datum": 11.26, "type": "quantitative", "title": "NO₃-N Con. (mg/L)"}}},
{"data": {"values": [{}]}, "mark": {"type": "text", "text": "addition", "font": "Liberation Serif", "fontWeight": "bold", "fontSize": 15, "color": "black"}, "encoding": {"x": {"datum": 11.2, "type": "quantitative", "title": "Time (days)"}, "y": {"datum": 10.37, "type": "quantitative", "title": "NO₃-N Con. (mg/L)"}}},
{"data": {"name": "main"}, "transform": [{"filter": "datum.p === 'c'"}], "layer": [
{"mark": {"type": "errorbar", "ticks": true, "size": 7, "thickness": 1}, "encoding": {"x": {"field": "d", "type": "quantitative", "title": "Time (days)"}, "y": {"field": "A", "type": "quantitative", "title": "NO₃-N Con. (mg/L)"}, "yError": {"field": "eA"}, "color": {"datum": "A"}}},
{"mark": {"type": "errorbar", "ticks": true, "size": 7, "thickness": 1}, "encoding": {"x": {"field": "d", "type": "quantitative", "title": "Time (days)"}, "y": {"field": "B", "type": "quantitative", "title": "NO₃-N Con. (mg/L)"}, "yError": {"field": "eB"}, "color": {"datum": "B"}}},
{"mark": {"type": "errorbar", "ticks": true, "size": 7, "thickness": 1}, "encoding": {"x": {"field": "d", "type": "quantitative", "title": "Time (days)"}, "y": {"field": "C", "type": "quantitative", "title": "NO₃-N Con. (mg/L)"}, "yError": {"field": "eC"}, "color": {"datum": "C"}}},
{"transform": [{"fold": ["Influent", "Control", "C", "B", "A"]}], "mark": {"type": "point", "filled": true, "opacity": 1},
 "encoding": {
  "x": {"field": "d", "type": "quantitative", "title": "Time (days)", "scale": {"domain": [0, 110], "nice": false}, "axis": {"values": [0,10,20,30,40,50,60,70,80,90,100,110], "labelExpr": "datum.value % 20 === 0 && datum.value <= 100 ? datum.label : ''", "tickSize": {"condition": {"test": "datum.value % 20 === 0", "value": 6}, "value": 3}}},
  "y": {"field": "value", "type": "quantitative", "title": "NO₃-N Con. (mg/L)", "scale": {"domain": [0, 15], "nice": false}, "axis": {"values": [0,2.5,5,7.5,10,12.5,15], "labelExpr": "datum.value % 5 === 0 ? datum.label : ''", "tickSize": {"condition": {"test": "datum.value % 5 === 0", "value": 6}, "value": 3}}},
  "color": {"field": "key", "type": "nominal", "scale": {"domain": ["A", "B", "C", "Control", "Influent"], "range": ["#15874a", "#8c8a3c", "#262c7c", "#6e50b4", "#c2519f"]}},
  "shape": {"field": "key", "type": "nominal", "scale": {"domain": ["A", "B", "C", "Control", "Influent"], "range": ["square", "circle", "triangle-up", "triangle-down", "triangle-left"]}},
  "size": {"field": "key", "type": "nominal", "scale": {"domain": ["A", "B", "C", "Control", "Influent"], "range": [115, 115, 165, 165, 165]}}
 }}
]}
]
},
{
"title": {"text": "(d)", "anchor": "start", "frame": "group", "dx": -88, "dy": 19, "offset": 0, "font": "Liberation Serif", "fontSize": 36, "fontWeight": "bold", "color": "black"},
"width": 450, "height": 337,
"layer": [
{"data": {"values": [{}]}, "mark": {"type": "rule", "strokeDash": [2, 2], "color": "black", "strokeWidth": 1}, "encoding": {"x": {"datum": 7, "type": "quantitative", "title": "Time (days)"}, "y": {"datum": 0, "type": "quantitative", "title": "NH₄-N Con. (mg/L)"}, "y2": {"datum": 3.5}}},
{"data": {"values": [{}]}, "mark": {"type": "rule", "color": "black", "strokeWidth": 1}, "encoding": {"x": {"datum": 7, "type": "quantitative", "title": "Time (days)"}, "y": {"datum": 4.66, "type": "quantitative", "title": "NH₄-N Con. (mg/L)"}, "y2": {"datum": 3.8}}},
{"data": {"values": [{}]}, "mark": {"type": "point", "shape": "triangle-down", "filled": true, "color": "black", "size": 30, "opacity": 1}, "encoding": {"x": {"datum": 7, "type": "quantitative", "title": "Time (days)"}, "y": {"datum": 3.68, "type": "quantitative", "title": "NH₄-N Con. (mg/L)"}}},
{"data": {"values": [{}]}, "mark": {"type": "text", "text": "Tubifex tubifex", "font": "Liberation Serif", "fontStyle": "italic", "fontWeight": "bold", "fontSize": 16, "color": "black"}, "encoding": {"x": {"datum": 11.5, "type": "quantitative", "title": "Time (days)"}, "y": {"datum": 5.82, "type": "quantitative", "title": "NH₄-N Con. (mg/L)"}}},
{"data": {"values": [{}]}, "mark": {"type": "text", "text": "addition", "font": "Liberation Serif", "fontWeight": "bold", "fontSize": 15, "color": "black"}, "encoding": {"x": {"datum": 11, "type": "quantitative", "title": "Time (days)"}, "y": {"datum": 5.09, "type": "quantitative", "title": "NH₄-N Con. (mg/L)"}}},
{"data": {"name": "main"}, "transform": [{"filter": "datum.p === 'd'"}], "layer": [
{"mark": {"type": "errorbar", "ticks": true, "size": 7, "thickness": 1}, "encoding": {"x": {"field": "d", "type": "quantitative", "title": "Time (days)"}, "y": {"field": "A", "type": "quantitative", "title": "NH₄-N Con. (mg/L)"}, "yError": {"field": "eA"}, "color": {"datum": "A"}}},
{"mark": {"type": "errorbar", "ticks": true, "size": 7, "thickness": 1}, "encoding": {"x": {"field": "d", "type": "quantitative", "title": "Time (days)"}, "y": {"field": "B", "type": "quantitative", "title": "NH₄-N Con. (mg/L)"}, "yError": {"field": "eB"}, "color": {"datum": "B"}}},
{"mark": {"type": "errorbar", "ticks": true, "size": 7, "thickness": 1}, "encoding": {"x": {"field": "d", "type": "quantitative", "title": "Time (days)"}, "y": {"field": "C", "type": "quantitative", "title": "NH₄-N Con. (mg/L)"}, "yError": {"field": "eC"}, "color": {"datum": "C"}}},
{"transform": [{"fold": ["Influent", "Control", "C", "B", "A"]}], "mark": {"type": "point", "filled": true, "opacity": 1},
 "encoding": {
  "x": {"field": "d", "type": "quantitative", "title": "Time (days)", "scale": {"domain": [-0.85, 108.4], "nice": false, "zero": false}, "axis": {"values": [0,10,20,30,40,50,60,70,80,90,100], "labelExpr": "datum.value % 20 === 0 ? datum.label : ''", "tickSize": {"condition": {"test": "datum.value % 20 === 0", "value": 6}, "value": 3}}},
  "y": {"field": "value", "type": "quantitative", "title": "NH₄-N Con. (mg/L)", "scale": {"domain": [-0.28, 10], "nice": false, "zero": false}, "axis": {"values": [0,1,2,3,4,5,6,7,8,9,10], "labelExpr": "datum.value % 2 === 0 ? datum.label : ''", "tickSize": {"condition": {"test": "datum.value % 2 === 0", "value": 6}, "value": 3}}},
  "color": {"field": "key", "type": "nominal", "scale": {"domain": ["A", "B", "C", "Control", "Influent"], "range": ["#15874a", "#8c8a3c", "#262c7c", "#6e50b4", "#c2519f"]}},
  "shape": {"field": "key", "type": "nominal", "scale": {"domain": ["A", "B", "C", "Control", "Influent"], "range": ["square", "circle", "triangle-up", "triangle-down", "triangle-left"]}},
  "size": {"field": "key", "type": "nominal", "scale": {"domain": ["A", "B", "C", "Control", "Influent"], "range": [115, 115, 165, 165, 165]}}
 }}
]}
]
}
],
"resolve": {"scale": {"color": "shared", "shape": "shared", "size": "shared"}},
"config": {
 "view": {"stroke": "black", "strokeWidth": 1},
 "axis": {"grid": false, "domainColor": "black", "domainWidth": 2, "tickColor": "black", "tickWidth": 1.5, "labelFont": "Liberation Sans", "labelFontSize": 16, "labelFontWeight": "bold", "labelColor": "black", "titleFont": "Liberation Sans", "titleFontSize": 22, "titleFontWeight": "bold", "titleColor": "black", "labelPadding": 2, "labelOverlap": false, "labelFlush": false},
 "axisX": {"titlePadding": 10},
 "axisY": {"titlePadding": 16}
}
}
